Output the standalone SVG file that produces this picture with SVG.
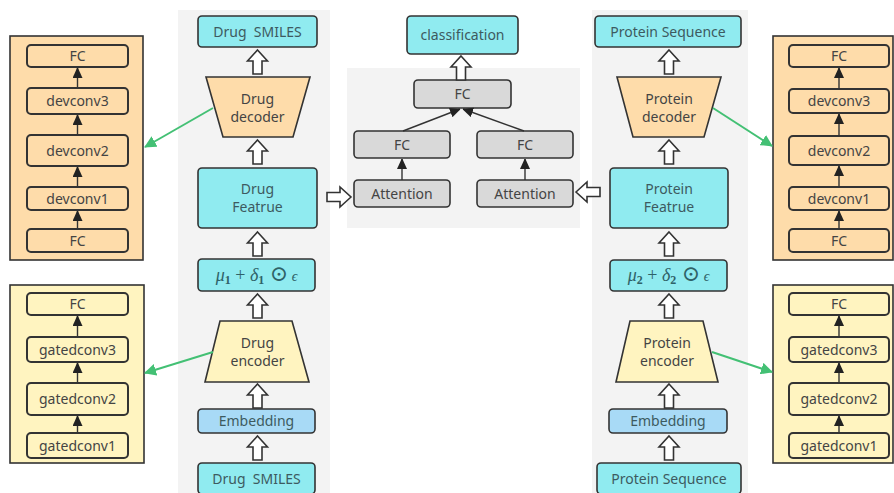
<svg xmlns="http://www.w3.org/2000/svg" xmlns:xlink="http://www.w3.org/1999/xlink" width="894" height="493" viewBox="0 0 894 493">
<style>
text{font-family:"Noto Sans","Open Sans","DejaVu Sans",sans-serif;font-size:14px;fill:#444;text-anchor:middle}
.cy{fill:#90ebf0;stroke:#333;stroke-width:1.6}
.emb{fill:#a8daf6;stroke:#333;stroke-width:1.6}
.or{fill:#fedcaa;stroke:#333;stroke-width:1.6}
.ye{fill:#fff4c0;stroke:#333;stroke-width:1.6}
.gr{fill:#d9d9d9;stroke:#333;stroke-width:1.6}
.pan{fill:#f3f3f3}
.ib{stroke-width:2}
.bl{stroke:#333;stroke-width:1.4;fill:none}
.gn{stroke:#43c074;stroke-width:2;fill:none}
.ct{fill:#3d5a60}
.m{font-family:"Liberation Serif","DejaVu Serif",serif;font-size:18px;fill:#2f6268}
</style>
<defs>
<path id="ua" d="M0,0 L10,11 L4.5,11 L4.5,24 L-4.5,24 L-4.5,11 L-10,11 Z" fill="#fff" stroke="#333" stroke-width="1.6" stroke-linejoin="miter"/>
<marker id="bh" markerWidth="10" markerHeight="12" refX="10" refY="5" orient="auto" markerUnits="userSpaceOnUse">
<path d="M0,0 L11,5 L0,10 Z" fill="#222"/>
</marker>
<marker id="gh" markerWidth="12" markerHeight="12" refX="11" refY="6" orient="auto" markerUnits="userSpaceOnUse">
<path d="M0,0 L12,6 L0,12 Z" fill="#43c074"/>
</marker>
</defs>

<g id="panels">
<rect class="pan" x="178" y="10" width="152" height="483"/>
<rect class="pan" x="347" y="68" width="233" height="160"/>
<rect class="pan" x="592" y="10" width="156" height="483"/>
</g>

<g id="left-decoder-panel">
<rect class="or" x="10" y="36" width="133" height="224"/>
<rect class="or ib" x="27" y="45" width="101" height="22" rx="4"/><text x="77.5" y="61">FC</text>
<rect class="or ib" x="27" y="88" width="101" height="26" rx="4"/><text x="77.5" y="106">devconv3</text>
<rect class="or ib" x="27" y="135" width="101" height="31" rx="4"/><text x="77.5" y="155.5">devconv2</text>
<rect class="or ib" x="27" y="187" width="101" height="23" rx="4"/><text x="77.5" y="203.5">devconv1</text>
<rect class="or ib" x="27" y="229" width="101" height="23" rx="4"/><text x="77.5" y="245.5">FC</text>
</g>

<g id="left-encoder-panel">
<rect class="ye" x="10" y="285" width="134" height="178"/>
<rect class="ye ib" x="27" y="293" width="101" height="22" rx="4"/><text x="77.5" y="309">FC</text>
<rect class="ye ib" x="27" y="337" width="101" height="25" rx="4"/><text x="77.5" y="354.5">gatedconv3</text>
<rect class="ye ib" x="27" y="383" width="101" height="32" rx="4"/><text x="77.5" y="404">gatedconv2</text>
<rect class="ye ib" x="27" y="433" width="101" height="25" rx="4"/><text x="77.5" y="450.5">gatedconv1</text>
</g>

<g id="right-decoder-panel">
<rect class="or" x="773" y="36" width="120" height="224"/>
<rect class="or ib" x="789" y="45" width="100" height="22" rx="4"/><text x="839" y="61">FC</text>
<rect class="or ib" x="789" y="89" width="100" height="24" rx="4"/><text x="839" y="106">devconv3</text>
<rect class="or ib" x="789" y="136" width="100" height="29" rx="4"/><text x="839" y="155.5">devconv2</text>
<rect class="or ib" x="789" y="187" width="100" height="23" rx="4"/><text x="839" y="203.5">devconv1</text>
<rect class="or ib" x="789" y="229" width="100" height="23" rx="4"/><text x="839" y="245.5">FC</text>
</g>

<g id="right-encoder-panel">
<rect class="ye" x="773" y="285" width="120" height="178"/>
<rect class="ye ib" x="789" y="293" width="100" height="22" rx="4"/><text x="839" y="309">FC</text>
<rect class="ye ib" x="789" y="337" width="100" height="25" rx="4"/><text x="839" y="354.5">gatedconv3</text>
<rect class="ye ib" x="789" y="383" width="100" height="32" rx="4"/><text x="839" y="404">gatedconv2</text>
<rect class="ye ib" x="789" y="433" width="100" height="25" rx="4"/><text x="839" y="450.5">gatedconv1</text>
</g>

<g id="drug-smiles-out"><rect class="cy" x="198" y="16" width="119" height="31" rx="4"/><text class="ct" x="257.5" y="36.5">Drug&#160; SMILES</text></g>
<g id="drug-decoder"><polygon class="or" points="206,77 310,77 293,137 223,137"/><text x="257.5" y="104">Drug</text><text x="257.5" y="122">decoder</text></g>
<g id="drug-feature"><rect class="cy" x="198" y="168" width="119" height="60" rx="4"/><text class="ct" x="257.5" y="194">Drug</text><text class="ct" x="257.5" y="212">Featrue</text></g>
<g id="drug-latent"><rect class="cy" x="198" y="259" width="117" height="32" rx="4"/>
<text class="m" x="256.5" y="281"><tspan font-style="italic">μ</tspan><tspan font-size="12" font-weight="bold" dy="3">1</tspan><tspan dy="-3"> + </tspan><tspan font-style="italic">δ</tspan><tspan font-size="12" font-weight="bold" dy="3">1</tspan><tspan dy="-3" font-size="22"> ⊙</tspan><tspan font-style="italic" font-size="14"> ϵ</tspan></text></g>
<g id="drug-encoder"><polygon class="ye" points="220,321 292,321 309,382 205,382" /><text x="257.5" y="348">Drug</text><text x="257.5" y="366">encoder</text></g>
<g id="drug-embedding"><rect class="emb" x="198" y="409" width="117" height="24" rx="4"/><text class="ct" x="256.5" y="426">Embedding</text></g>
<g id="drug-smiles-in"><rect class="cy" x="198" y="463" width="117" height="31" rx="4"/><text class="ct" x="256.5" y="483.5">Drug&#160; SMILES</text></g>

<g id="classification"><rect class="cy" x="407" y="16" width="111" height="38" rx="4"/><text class="ct" x="462.5" y="40">classification</text></g>
<g id="fc-top"><rect class="gr" x="414" y="80" width="97" height="28" rx="4"/><text x="462.5" y="99">FC</text></g>
<g id="fc-left"><rect class="gr" x="354" y="131" width="96" height="27" rx="4"/><text x="402" y="149.5">FC</text></g>
<g id="fc-right"><rect class="gr" x="477" y="131" width="96" height="27" rx="4"/><text x="525" y="149.5">FC</text></g>
<g id="attention-left"><rect class="gr" x="354" y="180" width="96" height="27" rx="4"/><text x="402" y="198.5">Attention</text></g>
<g id="attention-right"><rect class="gr" x="477" y="180" width="96" height="27" rx="4"/><text x="525" y="198.5">Attention</text></g>

<g id="protein-seq-out"><rect class="cy" x="595" y="16" width="146" height="31" rx="4"/><text class="ct" x="668" y="36.5">Protein Sequence</text></g>
<g id="protein-decoder"><polygon class="or" points="617,77 721,77 704,137 633,137"/><text x="669" y="104">Protein</text><text x="669" y="122">decoder</text></g>
<g id="protein-feature"><rect class="cy" x="610" y="168" width="118" height="60" rx="4"/><text class="ct" x="669" y="194">Protein</text><text class="ct" x="669" y="212">Featrue</text></g>
<g id="protein-latent"><rect class="cy" x="610" y="260" width="117" height="31" rx="4"/>
<text class="m" x="668.5" y="281"><tspan font-style="italic">μ</tspan><tspan font-size="12" font-weight="bold" dy="3">2</tspan><tspan dy="-3"> + </tspan><tspan font-style="italic">δ</tspan><tspan font-size="12" font-weight="bold" dy="3">2</tspan><tspan dy="-3" font-size="22"> ⊙</tspan><tspan font-style="italic" font-size="14"> ϵ</tspan></text></g>
<g id="protein-encoder"><polygon class="ye" points="630,321 703,321 718,382 616,382"/><text x="667" y="348">Protein</text><text x="667" y="366">encoder</text></g>
<g id="protein-embedding"><rect class="emb" x="609" y="409" width="118" height="24" rx="4"/><text class="ct" x="668" y="426">Embedding</text></g>
<g id="protein-seq-in"><rect class="cy" x="597" y="463" width="144" height="31" rx="4"/><text class="ct" x="669" y="483.5">Protein Sequence</text></g>

<g id="connectors">
<use href="#ua" x="257.5" y="50"/>
<use href="#ua" x="257.5" y="140"/>
<use href="#ua" x="257.5" y="232"/>
<use href="#ua" x="257.5" y="294"/>
<use href="#ua" x="257.5" y="384"/>
<use href="#ua" x="257.5" y="436"/>
<use href="#ua" x="669" y="50"/>
<use href="#ua" x="669" y="140"/>
<use href="#ua" x="669" y="232"/>
<use href="#ua" x="669" y="294"/>
<use href="#ua" x="669" y="384"/>
<use href="#ua" x="669" y="436"/>
<use href="#ua" x="461" y="56"/>
<use href="#ua" transform="translate(351,197) rotate(90)"/>
<use href="#ua" transform="translate(576,192) rotate(-90)"/>

<line class="bl" x1="402" y1="180" x2="402" y2="159" marker-end="url(#bh)"/>
<line class="bl" x1="525" y1="180" x2="525" y2="159" marker-end="url(#bh)"/>
<line class="bl" x1="403" y1="131" x2="460" y2="109" marker-end="url(#bh)"/>
<line class="bl" x1="524" y1="131" x2="463" y2="109" marker-end="url(#bh)"/>

<line class="bl" x1="77.5" y1="88" x2="77.5" y2="68" marker-end="url(#bh)"/>
<line class="bl" x1="77.5" y1="135" x2="77.5" y2="115" marker-end="url(#bh)"/>
<line class="bl" x1="77.5" y1="187" x2="77.5" y2="167" marker-end="url(#bh)"/>
<line class="bl" x1="77.5" y1="229" x2="77.5" y2="211" marker-end="url(#bh)"/>
<line class="bl" x1="77.5" y1="337" x2="77.5" y2="316" marker-end="url(#bh)"/>
<line class="bl" x1="77.5" y1="383" x2="77.5" y2="363" marker-end="url(#bh)"/>
<line class="bl" x1="77.5" y1="433" x2="77.5" y2="416" marker-end="url(#bh)"/>

<line class="bl" x1="839" y1="89" x2="839" y2="68" marker-end="url(#bh)"/>
<line class="bl" x1="839" y1="136" x2="839" y2="114" marker-end="url(#bh)"/>
<line class="bl" x1="839" y1="187" x2="839" y2="166" marker-end="url(#bh)"/>
<line class="bl" x1="839" y1="229" x2="839" y2="211" marker-end="url(#bh)"/>
<line class="bl" x1="839" y1="337" x2="839" y2="316" marker-end="url(#bh)"/>
<line class="bl" x1="839" y1="383" x2="839" y2="363" marker-end="url(#bh)"/>
<line class="bl" x1="839" y1="433" x2="839" y2="416" marker-end="url(#bh)"/>

<line class="gn" x1="213" y1="108" x2="145" y2="147" marker-end="url(#gh)"/>
<line class="gn" x1="213" y1="352" x2="145" y2="373" marker-end="url(#gh)"/>
<line class="gn" x1="713" y1="108" x2="772" y2="146" marker-end="url(#gh)"/>
<line class="gn" x1="712" y1="352" x2="772" y2="372" marker-end="url(#gh)"/>
</g>
</svg>
